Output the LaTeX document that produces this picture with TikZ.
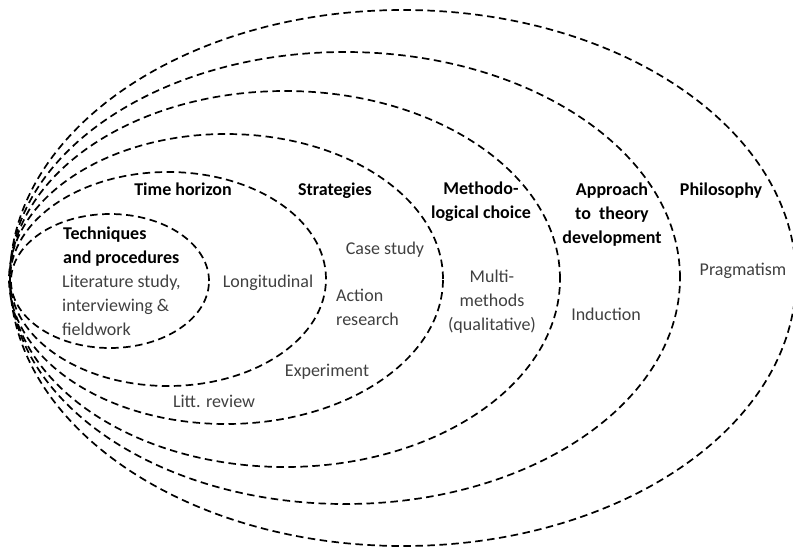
\documentclass[tikz,border=0pt]{standalone}
\usepackage{fontspec}
\setmainfont{Carlito}
\definecolor{txtgray}{HTML}{404040}
\begin{document}
\begin{tikzpicture}[x=1pt,y=-1pt,
  ring/.style={draw=black,line width=1.7pt,dash pattern=on 7.5pt off 4.5pt},
  head/.style={font=\fontsize{18}{24}\selectfont\bfseries,text=black,inner sep=0pt,anchor=base},
  item/.style={font=\fontsize{18}{24}\selectfont,text=txtgray,inner sep=0pt,anchor=base}]
\useasboundingbox (0,0) rectangle (793,550);
% rings
\draw[ring] (403,278) ellipse [x radius=393pt, y radius=268pt];
\draw[ring] (345,278) ellipse [x radius=335pt, y radius=226pt];
\draw[ring] (285,279) ellipse [x radius=275pt, y radius=188pt];
\draw[ring] (226,279) ellipse [x radius=217pt, y radius=145pt];
\draw[ring] (168,279) ellipse [x radius=158pt, y radius=107pt];
\draw[ring] (110,281) ellipse [x radius=99pt, y radius=67pt];
% labels (multi-line nodes: base = baseline of last line)
\node[head,align=left,anchor=base west] (tech) at (63,263) {Techniques\\and procedures};
\node[item,align=left,anchor=base west] (lit) at (62,335) {Literature study,\\interviewing \&\\fieldwork};
\node[head] (time) at (183,195) {Time horizon};
\node[item] (long) at (268,287) {Longitudinal};
\node[head] (strat) at (335,195) {Strategies};
\node[item] (case) at (385,254) {Case study};
\node[item,align=left,anchor=base west] (action) at (336,325) {Action\\research};
\node[item] (exp) at (327,376) {Experiment};
\node[item] (litt) at (214,407) {Litt. review};
\node[head,align=center] (meth) at (481,218) {Methodo-\\logical choice};
\node[item,align=center] (multi) at (492,330) {Multi-\\methods\\(qualitative)};
\node[head,align=center] (appr) at (612,243) {Approach\\to\ \ theory\\development};
\node[item] (ind) at (606,320) {Induction};
\node[head] (phil) at (721,195) {Philosophy};
\node[item] (prag) at (743,275) {Pragmatism};
\end{tikzpicture}
\end{document}
